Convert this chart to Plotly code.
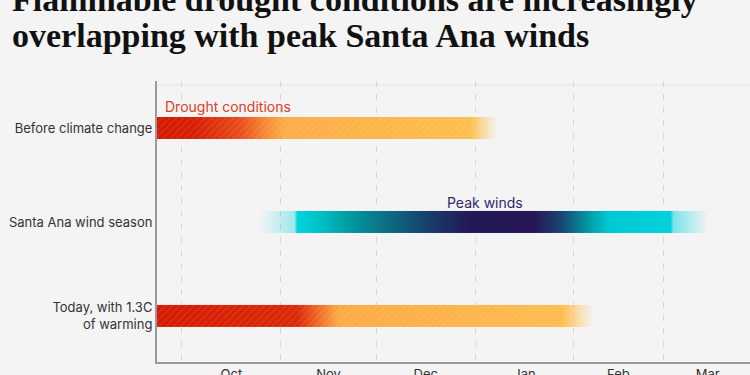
import plotly.graph_objects as go
import pandas as pd

# ---------------- data ----------------
row_labels = ["Before climate change", "Santa Ana wind season", "Today, with 1.3C<br>of warming"]
row_pos = [0, 1, 2]

# gradient stops (date, colour)
before_dates = ["2024-09-23", "2024-10-04", "2024-10-19", "2024-10-26", "2024-11-02", "2024-12-30", "2025-01-08"]
before_colors = ["rgba(213,25,0,1)", "rgba(214,28,2,1)", "rgba(232,75,25,1)", "rgba(245,130,50,1)",
                 "rgba(253,172,70,1)", "rgba(255,190,78,1)", "rgba(255,195,90,0)"]

wind_dates = ["2024-10-25", "2024-11-05", "2024-11-06", "2024-11-13", "2024-11-21", "2024-12-03",
              "2024-12-18", "2024-12-30", "2025-01-19", "2025-01-28", "2025-02-06", "2025-02-12",
              "2025-03-03", "2025-03-04", "2025-03-15"]
wind_colors = ["rgba(0,210,225,0)", "rgba(0,210,225,0.35)", "rgba(0,212,222,1)", "rgba(0,195,200,1)",
               "rgba(0,160,165,1)", "rgba(10,115,135,1)", "rgba(25,60,105,1)", "rgba(35,25,85,1)",
               "rgba(38,22,85,1)", "rgba(25,70,115,1)", "rgba(0,160,170,1)", "rgba(0,200,210,1)",
               "rgba(0,210,220,1)", "rgba(0,210,220,0.5)", "rgba(0,210,220,0)"]

today_dates = ["2024-09-23", "2024-11-06", "2024-11-13", "2024-11-19", "2025-01-28", "2025-02-07"]
today_colors = ["rgba(213,25,0,1)", "rgba(218,40,8,1)", "rgba(240,110,40,1)", "rgba(252,170,68,1)",
                "rgba(255,188,78,1)", "rgba(255,195,90,0)"]

hatch_rows = [0, 2]
hatch_start = ["2024-09-23", "2024-09-23"]
hatch_end = ["2024-12-30", "2025-01-28"]

x_range = ["2024-09-23 04:00", "2025-03-28 07:00"]

title_lines = ["Flammable drought conditions are increasingly",
               "overlapping with peak Santa Ana winds"]

# ---------------- figure ----------------
BAR_HALF = 0.117
fig = go.Figure()

for pos, dates, colors in [(0, before_dates, before_colors),
                           (1, wind_dates, wind_colors),
                           (2, today_dates, today_colors)]:
    n = len(dates)
    cs = [[i / (n - 1), c] for i, c in enumerate(colors)]
    fig.add_trace(go.Heatmap(
        x=dates,
        y=[pos - BAR_HALF / 2, pos + BAR_HALF / 2],
        z=[list(range(n)), list(range(n))],
        zmin=0, zmax=n - 1,
        colorscale=cs, showscale=False, zsmooth="best",
        hoverinfo="skip",
    ))

durations = [(pd.Timestamp(e) - pd.Timestamp(s)).total_seconds() * 1000
             for s, e in zip(hatch_start, hatch_end)]
fig.add_trace(go.Bar(
    orientation="h", y=hatch_rows, base=hatch_start, x=durations,
    width=2 * BAR_HALF,
    marker=dict(color="rgba(0,0,0,0)", line=dict(width=0),
                pattern=dict(shape="/", fgcolor="white", fgopacity=0.08, size=5, solidity=0.35)),
    hoverinfo="skip", showlegend=False,
))

fig.update_layout(
    template="none",
    width=750, height=375,
    margin=dict(l=157, r=0, t=81, b=13, autoexpand=False),
    paper_bgcolor="#f4f4f4", plot_bgcolor="#f4f4f4",
    showlegend=False,
    font=dict(family="Inter", size=13, color="#333"),
    xaxis=dict(
        type="date", range=x_range, automargin=False,
        showgrid=True, gridcolor="#d6d6d6", gridwidth=1, griddash="6px,7px",
        dtick="M1", tick0="2024-10-01", ticklabelmode="period", tickformat="%b",
        ticks="", showline=True, linecolor="#9a9a9a", linewidth=1.5, zeroline=False,
        tickfont=dict(family="Inter", size=13, color="#333"),
    ),
    yaxis=dict(
        range=[2.49, -0.5], automargin=False,
        tickvals=row_pos, ticktext=row_labels, ticks="",
        showgrid=False, zeroline=False, showline=True, linecolor="#9a9a9a", linewidth=2,
        tickfont=dict(family="Inter", size=13, color="#333"),
    ),
)

# faint top separator
fig.add_shape(type="line", xref="paper", yref="paper", x0=0, x1=1, y0=0.986, y1=0.986,
              line=dict(color="#e4e4e4", width=1), layer="below")

# series labels
fig.add_annotation(x="2024-09-25", y=-0.234, xref="x", yref="y", text="Drought conditions",
                   showarrow=False, xanchor="left", yanchor="middle",
                   font=dict(family="Inter", size=14, color="#e03c1f"))
fig.add_annotation(x="2025-01-04", y=0.795, xref="x", yref="y", text="Peak winds",
                   showarrow=False, xanchor="center", yanchor="middle",
                   font=dict(family="Inter", size=14, color="#2e2a6b"))

# title (two lines)
for txt, py in zip(title_lines, [-1, 35]):
    fig.add_annotation(x=(10 - 157) / 593, y=(362 - py) / 281, xref="paper", yref="paper",
                       text="<b>" + txt + "</b>", showarrow=False, xanchor="left", yanchor="middle",
                       font=dict(family="Liberation Serif", size=34, color="#111"))

fig.write_html(
    "out.html",
    config={"displayModeBar": False},
    post_script="document.body.style.margin='0';document.body.style.background='#f4f4f4';"
                "document.body.style.overflow='hidden';",
)
